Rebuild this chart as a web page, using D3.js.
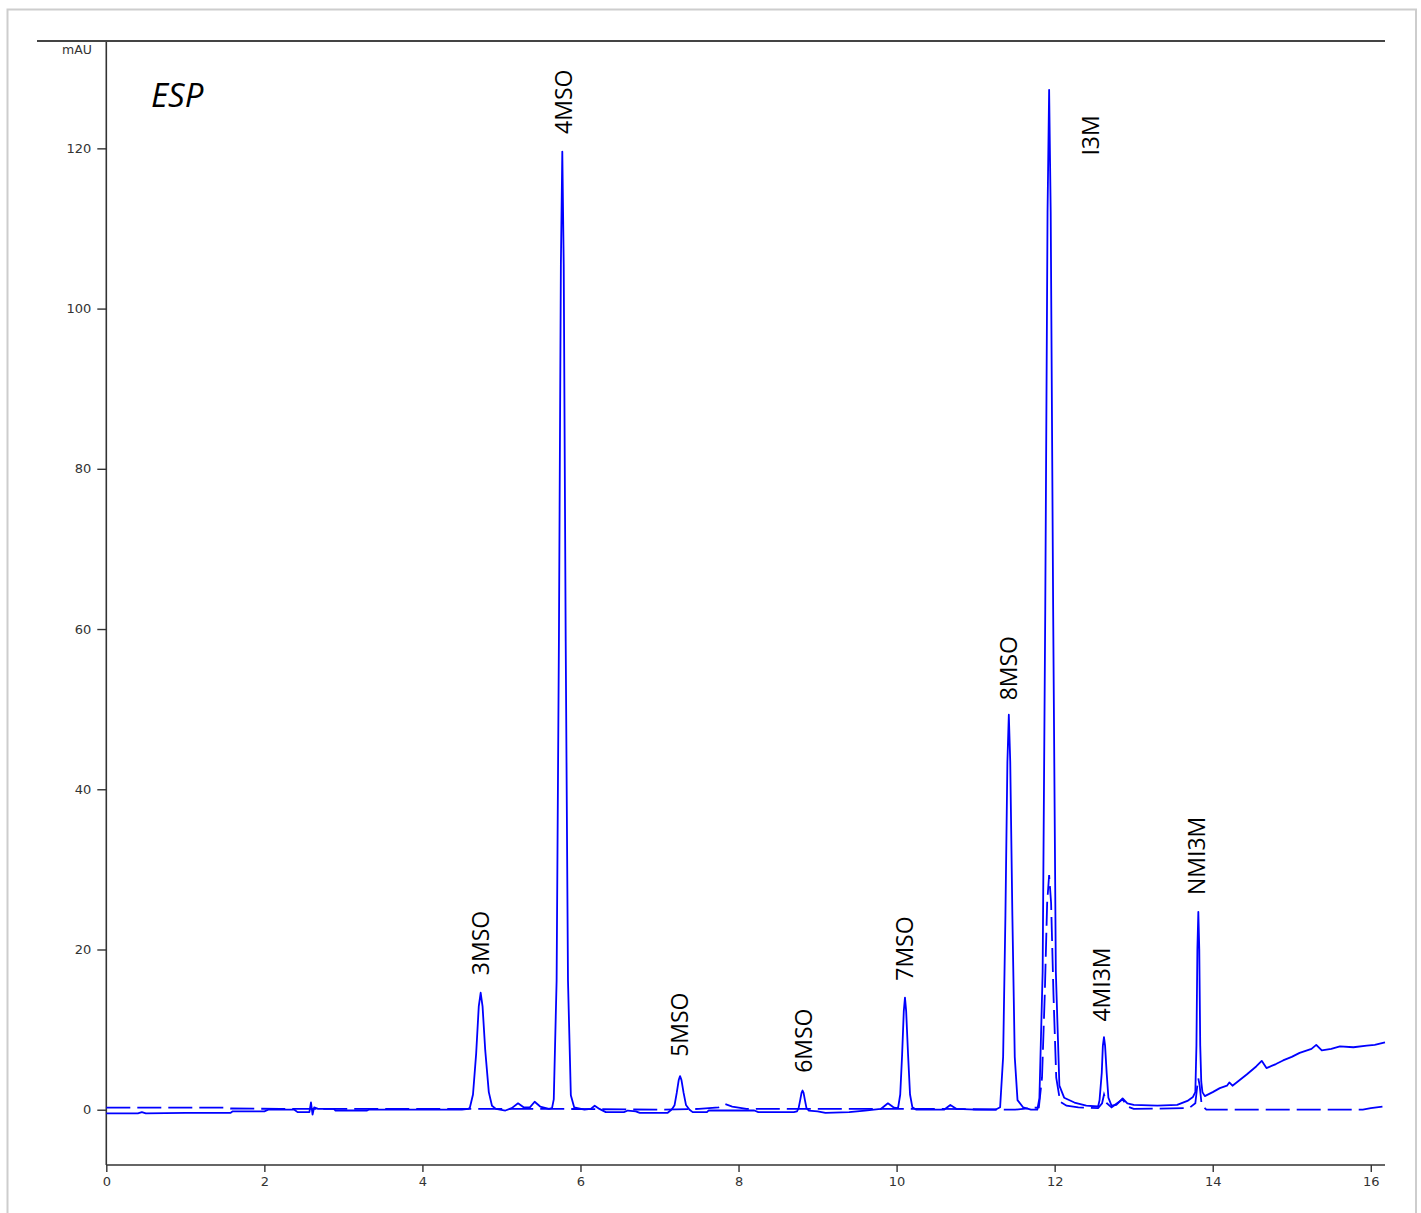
<!DOCTYPE html>
<html>
<head>
<meta charset="utf-8">
<script src="https://cdn.jsdelivr.net/npm/d3@7"></script>
<style>
  body { margin: 0; background: #fff; }
  svg { display: block; }
</style>
</head>
<body>
<svg id="chart" width="1421" height="1213"></svg>
<script>
// Sample chromatogram (solid line): [retention time (min), absorbance (mAU)]
const sampleTrace = [
  [0.00, -0.45], [0.40, -0.45], [0.45, -0.3], [0.50, -0.45], [1.00, -0.4], [1.57, -0.4],
  [1.60, -0.2], [2.00, -0.2], [2.05, 0.0], [2.38, 0.0], [2.42, -0.3], [2.57, -0.3],
  [2.59, 0.9], [2.61, -0.6], [2.63, 0.3], [2.68, 0.1], [2.88, 0.1], [2.90, -0.1],
  [3.30, -0.1], [3.32, 0.0], [4.50, 0.0], [4.58, 0.1],
  // 3MSO
  [4.60, 0.25], [4.64, 1.9], [4.68, 7.0], [4.713, 12.9], [4.737, 14.6], [4.761, 12.9],
  [4.795, 7.4], [4.84, 2.2], [4.88, 0.5], [4.93, 0.1],
  [5.05, -0.1], [5.13, 0.2], [5.21, 0.8], [5.28, 0.3], [5.36, 0.3], [5.42, 1.0],
  [5.49, 0.4], [5.60, 0.1], [5.64, 0.2],
  // 4MSO
  [5.662, 1.3], [5.698, 16.1], [5.727, 58.4], [5.752, 105.5], [5.77, 119.6],
  [5.788, 105.5], [5.813, 58.4], [5.842, 16.1], [5.878, 1.8], [5.92, 0.3],
  [6.05, 0.0], [6.13, 0.1], [6.18, 0.5], [6.24, 0.1], [6.32, -0.3], [6.55, -0.3],
  [6.60, -0.1], [6.70, -0.2], [6.75, -0.4], [7.10, -0.4], [7.15, 0.0],
  // 5MSO
  [7.16, 0.1], [7.19, 0.55], [7.218, 2.1], [7.243, 3.7], [7.26, 4.2], [7.278, 3.7],
  [7.305, 2.1], [7.335, 0.6], [7.38, 0.0], [7.42, -0.3],
  [7.60, -0.3], [7.62, -0.1], [8.20, -0.1], [8.25, -0.3], [8.70, -0.3], [8.74, -0.2],
  // 6MSO
  [8.76, 0.2], [8.78, 1.2], [8.797, 2.1], [8.81, 2.4], [8.823, 2.1], [8.84, 1.2],
  [8.86, 0.2], [8.89, -0.1],
  [9.00, -0.2], [9.10, -0.4], [9.40, -0.3], [9.60, -0.1], [9.80, 0.1], [9.89, 0.8],
  [9.96, 0.3], [10.00, 0.2],
  // 7MSO
  [10.02, 0.3], [10.046, 1.9], [10.07, 6.9], [10.091, 12.3], [10.106, 14.0],
  [10.121, 12.3], [10.145, 6.9], [10.17, 1.9], [10.20, 0.3], [10.25, 0.0],
  [10.60, 0.0], [10.68, 0.6], [10.76, 0.1], [11.00, 0.0], [11.25, 0.0],
  // 8MSO
  [11.31, 0.3], [11.348, 6.6], [11.377, 24.2], [11.402, 43.4], [11.42, 49.3],
  [11.438, 43.4], [11.465, 24.2], [11.495, 6.6], [11.53, 1.2], [11.60, 0.3],
  [11.70, 0.0], [11.78, 0.0],
  // I3M
  [11.807, 1.4], [11.848, 17.2], [11.881, 62.4], [11.91, 112.0], [11.93, 127.3],
  [11.95, 112.0], [11.981, 62.4], [12.015, 17.2], [12.06, 3.0], [12.12, 1.5],
  [12.25, 0.9], [12.40, 0.5], [12.55, 0.4],
  // 4MI3M
  [12.568, 1.2], [12.596, 4.6], [12.61, 8.0], [12.624, 9.06], [12.638, 8.0],
  [12.658, 4.6], [12.68, 1.5], [12.72, 0.5], [12.78, 0.6], [12.86, 1.4], [12.92, 0.8],
  [13.00, 0.6], [13.30, 0.5], [13.55, 0.6], [13.68, 1.1], [13.75, 1.6],
  // NMI3M
  [13.78, 2.2], [13.794, 8.0], [13.806, 20.0], [13.818, 24.7], [13.83, 20.0],
  [13.842, 8.0], [13.855, 3.5], [13.87, 2.2], [13.90, 1.7],
  [14.00, 2.2], [14.09, 2.7], [14.18, 3.0], [14.21, 3.4], [14.25, 3.0], [14.43, 4.4],
  [14.55, 5.4], [14.62, 6.1], [14.68, 5.2], [14.80, 5.7], [14.89, 6.15], [15.00, 6.6],
  [15.10, 7.1], [15.25, 7.6], [15.31, 8.1], [15.38, 7.4], [15.50, 7.6], [15.61, 7.9],
  [15.78, 7.8], [15.95, 8.0], [16.05, 8.1], [16.18, 8.4]
];

// Standard chromatogram (dashed line)
const standardTrace = [
  [0.00, 0.25], [1.50, 0.25], [1.57, 0.15], [2.20, 0.1], [4.50, 0.1], [5.80, 0.1],
  [7.00, 0.0], [7.50, 0.1], [7.75, 0.3], [7.83, 0.7], [7.92, 0.4], [8.10, 0.1],
  [9.80, 0.1], [10.60, 0.1], [11.50, 0.0], [11.80, 0.3],
  [11.84, 4.0], [11.875, 14.4], [11.905, 25.8], [11.93, 29.3], [11.955, 25.8],
  [11.985, 14.4], [12.02, 4.0], [12.07, 1.0], [12.15, 0.5], [12.30, 0.3], [12.55, 0.2],
  [12.60, 0.8], [12.625, 1.9], [12.66, 0.8], [12.72, 0.3], [12.86, 1.3], [12.92, 0.4],
  [13.00, 0.1], [13.70, 0.2], [13.78, 0.8], [13.805, 3.0], [13.818, 3.9], [13.835, 3.0],
  [13.86, 0.6], [13.92, 0.0], [15.90, 0.0], [16.00, 0.2], [16.15, 0.4]
];

// Peak annotations: name, time and level where each rotated label starts
const peakNames   = ["3MSO", "4MSO", "5MSO", "6MSO", "7MSO", "8MSO", "I3M", "4MI3M", "NMI3M"];
const labelTimes  = [4.843, 5.893, 7.361, 8.93, 10.208, 11.524, 12.561, 12.70, 13.902];
const labelLevels = [16.8, 121.8, 6.6, 4.6, 16.1, 51.1, 119.1, 11.0, 26.8];

const xTicks = [0, 2, 4, 6, 8, 10, 12, 14, 16];
const yTicks = [0, 20, 40, 60, 80, 100, 120];
const xDomain = [0, 16.18];
const yDomain = [-6.9, 133.4];

const svg = d3.select("#chart");
const W = 1421, H = 1213;
const plot = { left: 106.3, right: 1385, top: 41, bottom: 1165 };

svg.append("rect").attr("width", W).attr("height", H).attr("fill", "#fff");
// outer frame
svg.append("rect")
  .attr("x", 7.5).attr("y", 9.5).attr("width", 1408.5).attr("height", 1230)
  .attr("fill", "none").attr("stroke", "#cdcdcd").attr("stroke-width", 2);

const x = d3.scaleLinear().domain(xDomain).range([plot.left, plot.right]);
const y = d3.scaleLinear().domain(yDomain).range([plot.bottom, plot.top]);

const axisColor = "#333";
const tickFont = "'DejaVu Sans', Verdana, sans-serif";

// minor ticks
const xMinor = d3.range(0, 16.01, 0.5).filter(v => !xTicks.includes(v));
const yMinor = d3.range(-5, 131, 5).filter(v => !yTicks.includes(v));

const gx = svg.append("g").attr("transform", `translate(0,${plot.bottom})`);
gx.call(d3.axisBottom(x).tickValues(xMinor).tickSize(3).tickFormat(""));
gx.call(d3.axisBottom(x).tickValues(xTicks).tickSize(7).tickPadding(5).tickFormat(d3.format("d")));
gx.selectAll(".domain").remove();
gx.append("line").attr("x1", plot.left).attr("x2", plot.right).attr("stroke", axisColor).attr("stroke-width", 1.6);

const gy = svg.append("g").attr("transform", `translate(${plot.left},0)`);
gy.call(d3.axisLeft(y).tickValues(yMinor).tickSize(3).tickFormat(""));
gy.call(d3.axisLeft(y).tickValues(yTicks).tickSize(9).tickPadding(6).tickFormat(d3.format("d")));
gy.selectAll(".domain").remove();
gy.append("line").attr("y1", plot.top).attr("y2", plot.bottom).attr("stroke", axisColor).attr("stroke-width", 1.6);

svg.selectAll(".tick line").attr("stroke", axisColor).attr("stroke-width", 1.4);
svg.selectAll(".tick text").attr("fill", "#333").style("font-family", tickFont).style("font-size", "13px");

// top border line
svg.append("line")
  .attr("x1", 37).attr("x2", plot.right).attr("y1", plot.top).attr("y2", plot.top)
  .attr("stroke", "#444").attr("stroke-width", 2);

svg.append("text").attr("x", 92).attr("y", 54).attr("text-anchor", "end")
  .style("font-family", tickFont).style("font-size", "12.5px").attr("fill", "#333")
  .text("mAU");

// traces
const line = d3.line().x(d => x(d[0])).y(d => y(d[1]));
svg.append("path").datum(standardTrace).attr("d", line)
  .attr("fill", "none").attr("stroke", "#0000ff").attr("stroke-width", 1.8)
  .attr("stroke-dasharray", "24,7");
svg.append("path").datum(sampleTrace).attr("d", line)
  .attr("fill", "none").attr("stroke", "#0000ff").attr("stroke-width", 1.8)
  .attr("stroke-linejoin", "round");

// sample tag
svg.append("text").attr("x", 151).attr("y", 107)
  .style("font-family", "'Open Sans', sans-serif").style("font-style", "italic")
  .style("font-size", "33px").attr("fill", "#000").text("ESP");

// peak labels
svg.append("g").selectAll("text").data(peakNames).join("text")
  .attr("transform", (d, i) => `translate(${x(labelTimes[i])},${y(labelLevels[i])}) rotate(-90)`)
  .style("font-family", "'Open Sans', sans-serif").style("font-size", "23px")
  .attr("fill", "#000").text(d => d);
</script>
</body>
</html>
